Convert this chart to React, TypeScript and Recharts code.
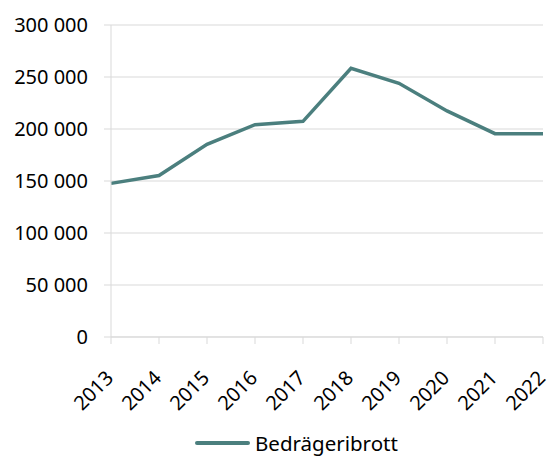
import { LineChart, Line, XAxis, YAxis, CartesianGrid, Legend } from "recharts";

const years = ["2013", "2014", "2015", "2016", "2017", "2018", "2019", "2020", "2021", "2022"];
const fraud = [147700, 155200, 185200, 204200, 207400, 258400, 243900, 217400, 195500, 195500];
const yTicks = [0, 50000, 100000, 150000, 200000, 250000, 300000];

const seriesName = "Bedrägeribrott";
const lineColor = "#4b7f7e";
const gridColor = "#d9d9d9";
const font = "'Noto Sans', sans-serif";

const data = years.map((year, i) => ({ year, value: fraud[i] }));

const fmt = (v: number) => String(v).replace(/\B(?=(\d{3})+(?!\d))/g, " ");

function YearTick({ x, y, payload }: any) {
  return (
    <g transform={`translate(${x},${y})`}>
      <text
        x={-21}
        y={26}
        textAnchor="end"
        transform="rotate(-45)"
        fontSize={20}
        fontFamily={font}
        fill="#000"
      >
        {payload.value}
      </text>
    </g>
  );
}

function SeriesLegend() {
  return (
    <div
      style={{
        display: "flex",
        alignItems: "center",
        paddingLeft: 195,
        paddingTop: 10,
        lineHeight: "24px",
        fontFamily: font,
        fontSize: 20.5,
        color: "#000",
      }}
    >
      <span
        style={{
          display: "inline-block",
          width: 55,
          height: 4,
          borderRadius: 2,
          background: lineColor,
          marginRight: 5,
        }}
      />
      {seriesName}
    </div>
  );
}

export default function App() {
  return (
    <div style={{ position: "absolute", left: 0, top: 0, background: "#fff" }}>
      <LineChart
        width={548}
        height={457}
        data={data}
        margin={{ top: 25, right: 5, bottom: 0, left: 0 }}
      >
        <CartesianGrid vertical={false} stroke={gridColor} />
        <XAxis
          dataKey="year"
          height={84}
          interval={0}
          stroke={gridColor}
          tickLine={{ stroke: gridColor }}
          tickSize={7}
          tick={<YearTick />}
        />
        <YAxis
          width={111}
          domain={[0, 300000]}
          ticks={yTicks}
          tickFormatter={fmt}
          stroke={gridColor}
          tickLine={{ stroke: gridColor }}
          tickSize={7}
          tickMargin={16}
          tick={{ fontSize: 20, fontFamily: font, fill: "#000" }}
        />
        <Legend verticalAlign="bottom" height={36} content={<SeriesLegend />} />
        <Line
          type="linear"
          dataKey="value"
          name={seriesName}
          stroke={lineColor}
          strokeWidth={3.5}
          dot={false}
          isAnimationActive={false}
        />
      </LineChart>
    </div>
  );
}
